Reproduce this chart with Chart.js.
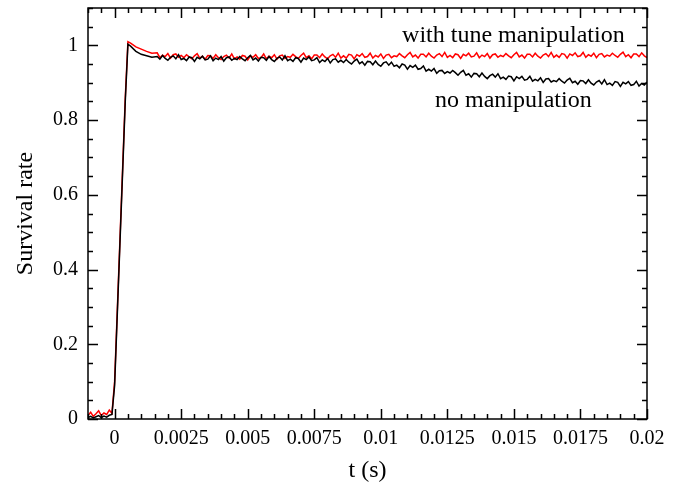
<!DOCTYPE html>
<html>
<head>
<meta charset="utf-8">
<script src="https://cdn.jsdelivr.net/npm/chart.js@4/dist/chart.umd.min.js"></script>
<style>
  html, body { margin: 0; padding: 0; background: #fff; }
  canvas { display: block; }
</style>
</head>
<body>
<canvas id="c" width="678" height="485"></canvas>
<script>
// ---- data ----
const times = [
  -0.001, -0.0009, -0.0008, -0.0007, -0.0006, -0.0005, -0.0004, -0.0003, -0.0002, -0.0001,
  0, 0.0002, 0.0004, 0.0005, 0.0006, 0.0008, 0.001, 0.0012, 0.0014,
  0.0016, 0.0017, 0.0018, 0.0019, 0.002, 0.0021, 0.0022, 0.0023, 0.0024, 0.0025,
  0.0026, 0.0027, 0.0028, 0.0029, 0.003, 0.0031, 0.0032, 0.0033, 0.0034, 0.0035,
  0.0036, 0.0037, 0.0038, 0.0039, 0.004, 0.0041, 0.0042, 0.0043, 0.0044, 0.0045,
  0.0046, 0.0047, 0.0048, 0.0049, 0.005, 0.0051, 0.0052, 0.0053, 0.0054, 0.0055,
  0.0056, 0.0057, 0.0058, 0.0059, 0.006, 0.0061, 0.0062, 0.0063, 0.0064, 0.0065,
  0.0066, 0.0067, 0.0068, 0.0069, 0.007, 0.0071, 0.0072, 0.0073, 0.0074, 0.0075,
  0.0076, 0.0077, 0.0078, 0.0079, 0.008, 0.0081, 0.0082, 0.0083, 0.0084, 0.0085,
  0.0086, 0.0087, 0.0088, 0.0089, 0.009, 0.0091, 0.0092, 0.0093, 0.0094, 0.0095,
  0.0096, 0.0097, 0.0098, 0.0099, 0.01, 0.0101, 0.0102, 0.0103, 0.0104, 0.0105,
  0.0106, 0.0107, 0.0108, 0.0109, 0.011, 0.0111, 0.0112, 0.0113, 0.0114, 0.0115,
  0.0116, 0.0117, 0.0118, 0.0119, 0.012, 0.0121, 0.0122, 0.0123, 0.0124, 0.0125,
  0.0126, 0.0127, 0.0128, 0.0129, 0.013, 0.0131, 0.0132, 0.0133, 0.0134, 0.0135,
  0.0136, 0.0137, 0.0138, 0.0139, 0.014, 0.0141, 0.0142, 0.0143, 0.0144, 0.0145,
  0.0146, 0.0147, 0.0148, 0.0149, 0.015, 0.0151, 0.0152, 0.0153, 0.0154, 0.0155,
  0.0156, 0.0157, 0.0158, 0.0159, 0.016, 0.0161, 0.0162, 0.0163, 0.0164, 0.0165,
  0.0166, 0.0167, 0.0168, 0.0169, 0.017, 0.0171, 0.0172, 0.0173, 0.0174, 0.0175,
  0.0176, 0.0177, 0.0178, 0.0179, 0.018, 0.0181, 0.0182, 0.0183, 0.0184, 0.0185,
  0.0186, 0.0187, 0.0188, 0.0189, 0.019, 0.0191, 0.0192, 0.0193, 0.0194, 0.0195,
  0.0196, 0.0197, 0.0198, 0.0199, 0.02
];

const noManipulation = [
  0.004, 0.007, 0.003, 0.006, 0.009, 0.004, 0.008, 0.005, 0.010, 0.012,
  0.09, 0.47, 0.85, 1.003, 0.998, 0.984, 0.976, 0.972, 0.968,
  0.970, 0.963, 0.973, 0.965, 0.960, 0.968, 0.972, 0.964, 0.975, 0.962,
  0.965, 0.959, 0.969, 0.967, 0.957, 0.968, 0.964, 0.971, 0.961, 0.963,
  0.972, 0.959, 0.966, 0.962, 0.970, 0.958, 0.967, 0.969, 0.960, 0.965,
  0.962, 0.970, 0.964, 0.959, 0.967, 0.973, 0.961, 0.966, 0.958, 0.968,
  0.967, 0.960, 0.970, 0.962, 0.957, 0.965, 0.969, 0.961, 0.972, 0.959,
  0.963, 0.957, 0.967, 0.965, 0.955, 0.966, 0.962, 0.969, 0.959, 0.961,
  0.967, 0.954, 0.961, 0.957, 0.965, 0.953, 0.962, 0.964, 0.955, 0.960,
  0.954, 0.962, 0.955, 0.950, 0.958, 0.963, 0.951, 0.956, 0.947, 0.957,
  0.956, 0.948, 0.958, 0.949, 0.944, 0.953, 0.956, 0.947, 0.955, 0.944,
  0.947, 0.940, 0.950, 0.947, 0.936, 0.946, 0.941, 0.947, 0.936, 0.938,
  0.945, 0.931, 0.936, 0.931, 0.938, 0.925, 0.932, 0.933, 0.925, 0.930,
  0.926, 0.933, 0.927, 0.920, 0.928, 0.933, 0.920, 0.924, 0.915, 0.925,
  0.924, 0.916, 0.926, 0.917, 0.911, 0.919, 0.923, 0.915, 0.924, 0.911,
  0.915, 0.909, 0.918, 0.916, 0.905, 0.916, 0.911, 0.917, 0.907, 0.909,
  0.917, 0.904, 0.909, 0.905, 0.913, 0.901, 0.910, 0.911, 0.902, 0.906,
  0.903, 0.911, 0.904, 0.899, 0.907, 0.912, 0.900, 0.904, 0.896, 0.906,
  0.905, 0.898, 0.908, 0.899, 0.894, 0.902, 0.906, 0.897, 0.908, 0.895,
  0.899, 0.893, 0.903, 0.901, 0.890, 0.901, 0.897, 0.903, 0.893, 0.895,
  0.904, 0.891, 0.898, 0.894, 0.902
];

const withTune = [
  0.010, 0.018, 0.007, 0.014, 0.022, 0.009, 0.016, 0.012, 0.024, 0.015,
  0.10, 0.48, 0.86, 1.010, 1.006, 0.996, 0.990, 0.984, 0.979,
  0.980, 0.967, 0.974, 0.970, 0.978, 0.966, 0.975, 0.977, 0.968, 0.973,
  0.967, 0.975, 0.969, 0.964, 0.972, 0.978, 0.966, 0.971, 0.963, 0.973,
  0.972, 0.965, 0.975, 0.967, 0.962, 0.970, 0.974, 0.966, 0.977, 0.964,
  0.969, 0.963, 0.973, 0.971, 0.961, 0.972, 0.968, 0.975, 0.965, 0.967,
  0.977, 0.964, 0.971, 0.967, 0.975, 0.963, 0.972, 0.974, 0.965, 0.970,
  0.968, 0.976, 0.970, 0.965, 0.973, 0.979, 0.967, 0.972, 0.964, 0.974,
  0.974, 0.967, 0.977, 0.969, 0.964, 0.972, 0.976, 0.968, 0.979, 0.966,
  0.972, 0.966, 0.976, 0.974, 0.964, 0.975, 0.971, 0.978, 0.968, 0.970,
  0.979, 0.966, 0.973, 0.969, 0.977, 0.965, 0.974, 0.976, 0.967, 0.972,
  0.970, 0.978, 0.972, 0.967, 0.975, 0.981, 0.969, 0.974, 0.966, 0.976,
  0.976, 0.969, 0.979, 0.971, 0.966, 0.974, 0.978, 0.970, 0.981, 0.968,
  0.973, 0.967, 0.977, 0.975, 0.965, 0.976, 0.972, 0.979, 0.969, 0.971,
  0.980, 0.967, 0.974, 0.970, 0.978, 0.966, 0.975, 0.977, 0.968, 0.973,
  0.970, 0.978, 0.972, 0.967, 0.975, 0.981, 0.969, 0.974, 0.966, 0.976,
  0.976, 0.969, 0.979, 0.971, 0.966, 0.974, 0.978, 0.970, 0.981, 0.968,
  0.974, 0.968, 0.978, 0.976, 0.966, 0.977, 0.973, 0.980, 0.970, 0.972,
  0.981, 0.968, 0.975, 0.971, 0.979, 0.967, 0.976, 0.978, 0.969, 0.974,
  0.971, 0.979, 0.973, 0.968, 0.976, 0.982, 0.970, 0.975, 0.967, 0.977,
  0.977, 0.970, 0.980, 0.972, 0.967
];

const xTickValues = [0, 0.0025, 0.005, 0.0075, 0.01, 0.0125, 0.015, 0.0175, 0.02];
const xTickLabels = ['0', '0.0025', '0.005', '0.0075', '0.01', '0.0125', '0.015', '0.0175', '0.02'];
const yTickValues = [0, 0.2, 0.4, 0.6, 0.8, 1];
const yTickLabels = ['0', '0.2', '0.4', '0.6', '0.8', '1'];

const seriesNames = ['no manipulation', 'with tune manipulation'];

// ---- annotation placement (data coordinates) ----
const labelTune = { text: 'with tune manipulation', x: 0.01498, y: 1.008 };
const labelNo   = { text: 'no manipulation',        x: 0.01498, y: 0.834 };

const FONT = '"Liberation Serif", "Times New Roman", serif';

const frameTicks = {
  id: 'frameTicks',
  afterDraw(chart) {
    const { ctx, chartArea: a, scales: { x, y } } = chart;
    ctx.save();
    ctx.strokeStyle = '#000';
    ctx.lineWidth = 1.5;
    ctx.strokeRect(a.left, a.top, a.right - a.left, a.bottom - a.top);
    ctx.beginPath();
    // x ticks every 0.0005, major every 0.0025
    for (let k = Math.ceil(x.min / 0.0005); k * 0.0005 <= x.max + 1e-12; k++) {
      const v = k * 0.0005;
      const px = Math.round(x.getPixelForValue(v)) + 0.5;
      const len = (k % 5 === 0) ? 10 : 5;
      ctx.moveTo(px, a.bottom); ctx.lineTo(px, a.bottom - len);
      ctx.moveTo(px, a.top); ctx.lineTo(px, a.top + len);
    }
    // y ticks every 0.05, major every 0.2
    for (let k = 0; k * 0.05 <= y.max + 1e-12; k++) {
      const v = k * 0.05;
      const py = Math.round(y.getPixelForValue(v)) + 0.5;
      const len = (k % 4 === 0) ? 10 : 5;
      ctx.moveTo(a.left, py); ctx.lineTo(a.left + len, py);
      ctx.moveTo(a.right, py); ctx.lineTo(a.right - len, py);
    }
    ctx.stroke();

    // annotations
    ctx.fillStyle = '#000';
    ctx.font = '24px ' + FONT;
    ctx.textAlign = 'center';
    ctx.textBaseline = 'alphabetic';
    [labelTune, labelNo].forEach(l => {
      ctx.fillText(l.text, x.getPixelForValue(l.x), y.getPixelForValue(l.y));
    });
    ctx.restore();
  }
};

new Chart(document.getElementById('c'), {
  type: 'line',
  data: {
    datasets: [
      {
        label: seriesNames[0],
        data: times.map((t, i) => ({ x: t, y: noManipulation[i] })),
        borderColor: '#000000',
        borderWidth: 1.5,
        pointRadius: 0,
        tension: 0,
        order: 0
      },
      {
        label: seriesNames[1],
        data: times.map((t, i) => ({ x: t, y: withTune[i] })),
        borderColor: '#ff0000',
        borderWidth: 1.5,
        pointRadius: 0,
        tension: 0,
        order: 1
      }
    ]
  },
  options: {
    responsive: false,
    devicePixelRatio: 1,
    animation: false,
    layout: { padding: { left: 0, right: 31, top: 8, bottom: 0 } },
    plugins: { legend: { display: false }, tooltip: { enabled: false } },
    scales: {
      x: {
        type: 'linear',
        min: -0.001,
        max: 0.02,
        grid: { display: false, drawTicks: false },
        border: { display: false },
        afterBuildTicks: s => { s.ticks = xTickValues.map(v => ({ value: v })); },
        afterFit: s => { s.height = 66; },
        ticks: {
          color: '#000',
          padding: 8,
          maxRotation: 0,
          autoSkip: false,
          font: { family: FONT, size: 20 },
          callback: (v, i) => xTickLabels[i]
        },
        title: {
          display: true,
          text: 't (s)',
          color: '#000',
          font: { family: FONT, size: 24 },
          padding: { top: 0, bottom: 0 }
        }
      },
      y: {
        type: 'linear',
        min: 0,
        max: 1.1,
        grid: { display: false, drawTicks: false },
        border: { display: false },
        afterBuildTicks: s => { s.ticks = yTickValues.map(v => ({ value: v })); },
        afterFit: s => { s.width = 88; s.paddingTop = 0; s.paddingBottom = 0; },
        ticks: {
          color: '#000',
          padding: 10,
          autoSkip: false,
          font: { family: FONT, size: 20, lineHeight: 0.1 },
          callback: (v, i) => yTickLabels[i]
        },
        title: {
          display: true,
          text: 'Survival rate',
          color: '#000',
          font: { family: FONT, size: 24 },
          padding: { top: 11, bottom: 0 }
        }
      }
    }
  },
  plugins: [frameTicks]
});
</script>
</body>
</html>
